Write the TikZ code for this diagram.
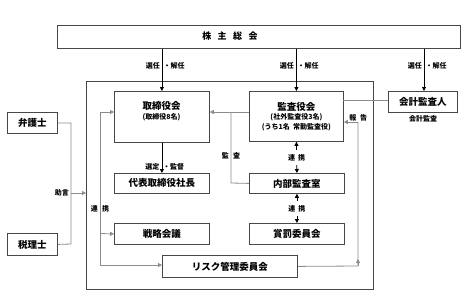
\documentclass[tikz,border=0pt]{standalone}
\usepackage{fontspec}
\setmainfont{Noto Sans CJK JP}
\usetikzlibrary{arrows.meta}
\begin{document}
\begin{tikzpicture}[x=1pt,y=-1pt,
  box/.style={draw=black!72, line width=0.8pt, fill=white, inner sep=0pt, anchor=north west, font=\fontsize{9.5}{11}\selectfont\bfseries},
  small/.style={font=\fontsize{7}{8}\selectfont\bfseries, inner sep=0pt},
  lbl/.style={font=\fontsize{7}{8}\selectfont\bfseries, inner sep=0pt},
  solidln/.style={draw=black, line width=0.8pt},
  grayln/.style={draw=black!45, line width=0.8pt},
  tip/.style={-{Triangle[length=4pt,width=4pt]}},
  dtip/.style={{Triangle[length=4pt,width=4pt]}-{Triangle[length=4pt,width=4pt]}}
]
\useasboundingbox (0,0) rectangle (461,303);
% boxes
\node[box, minimum width=403pt, minimum height=23pt] (soukai) at (57,25) {};
\node[font=\fontsize{9}{10}\selectfont\bfseries, inner sep=0pt] (soukait) at (230,36.5) {株\hspace{6.5pt}主\hspace{6.5pt}総\hspace{6.5pt}会};
\node[box, fill=none, minimum width=287pt, minimum height=208pt] (outer) at (86,81) {};
\node[box, minimum width=95pt, minimum height=51pt] (tori) at (114,91) {};
\node[font=\fontsize{9.5}{11}\selectfont\bfseries, inner sep=0pt] (torit) at (161.5,106) {取締役会};
\node[small] (torin) at (161.5,117.5) {(取締役8名)};
\node[box, minimum width=94pt, minimum height=50pt, align=center] (kansa) at (249,91) {監査役会\\[-1.5pt]{\fontsize{7}{11.5}\selectfont (社外監査役3名)}\\[-1.5pt]{\fontsize{7}{11.5}\selectfont (うち1名\ \ 常勤監査役)}};
\node[box, minimum width=69pt, minimum height=21pt] (kaikei) at (388,91) {会計監査人};
\node[lbl] (kaikeil) at (423,118.5) {会計監査};
\node[box, minimum width=95pt, minimum height=20pt] (daihyo) at (114,173) {代表取締役社長};
\node[box, minimum width=95pt, minimum height=21pt] (senryaku) at (114,223) {戦略会議};
\node[box, minimum width=135pt, minimum height=22pt] (risk) at (162,255) {リスク管理委員会};
\node[box, minimum width=95pt, minimum height=20pt] (naibu) at (249,173) {内部監査室};
\node[box, minimum width=95pt, minimum height=21pt] (shobatsu) at (249,223) {賞罰委員会};
\node[box, minimum width=50pt, minimum height=21pt] (bengo) at (7,112) {弁護士};
\node[box, minimum width=50pt, minimum height=22pt] (zeiri) at (7,233) {税理士};
% election arrows
\draw[solidln, tip] (soukai.south -| tori.north) -- (tori.north);
\draw[solidln, tip] (soukai.south -| kansa.north) -- (kansa.north);
\coordinate (ka) at (424,91);
\draw[solidln, tip] (soukai.south -| ka) -- (ka);
\node[lbl, anchor=east] (s1a) at (160,66) {選任};
\node[lbl, anchor=west] (s1b) at (163.5,66) {・解任};
\node[lbl, anchor=east] (s2a) at (294,66) {選任};
\node[lbl, anchor=west] (s2b) at (297.5,66) {・解任};
\node[lbl, anchor=east] (s3a) at (422,66) {選任};
\node[lbl, anchor=west] (s3b) at (425.5,66) {・解任};
% 選定・監督
\draw[solidln, tip] (tori.south) -- (daihyo.north);
\node[lbl, anchor=east] (sta) at (159.5,167) {選定};
\node[lbl, anchor=west] (stb) at (163,167) {・監督};
% kansa - kaikei
\coordinate (kk1) at (343,100);
\draw[grayln] (kk1) -- (kk1 -| kaikei.west);
% 監査
\coordinate (m1) at (231,112);
\coordinate (m2) at (231,183);
\draw[grayln, tip] (m1 -| kansa.west) -- (m1 -| tori.east);
\draw[grayln] (m1) -- (m2) -- (naibu.west);
\node[lbl, anchor=east] (ma) at (229,156) {監};
\node[lbl, anchor=west] (mb) at (233,156) {査};
% 連携 double arrows
\draw[solidln, dtip] (kansa.south) -- node[lbl, fill=white, inner ysep=4pt, inner xsep=1pt] (r1) {連\hspace{3pt}携} (naibu.north);
\draw[solidln, dtip] (naibu.south) -- node[lbl, fill=white, inner ysep=4pt, inner xsep=1pt] (r2) {連\hspace{3pt}携} (shobatsu.north);
% 報告
\coordinate (h1) at (358,266);
\coordinate (h2) at (358,122);
\coordinate (h3) at (358,259);
\draw[grayln] (risk.east) -- (h1) -- (h2);
\draw[grayln, tip] (h1) -- (h3);
\draw[grayln, tip] (h2) -- (h2 -| kansa.east);
\node[lbl, anchor=east] (ha) at (356.5,118) {報};
\node[lbl, anchor=west] (hb) at (360,118) {告};
% 助言
\coordinate (j1) at (71,123);
\coordinate (j2) at (71,244);
\coordinate (j3) at (71,193);
\draw[grayln] (bengo.east) -- (j1) -- (j2) -- (zeiri.east);
\draw[grayln, tip] (j3) -- (j3 -| outer.west);
\node[lbl, anchor=east] (jl) at (69,193) {助言};
% 連携 left
\coordinate (l1) at (100,112);
\coordinate (l2) at (100,265);
\coordinate (l3) at (100,233.5);
\draw[grayln] (l1) -- (l2);
\draw[grayln, tip] (l1) -- (l1 -| tori.west);
\draw[grayln, tip] (l3) -- (senryaku.west);
\draw[grayln, tip] (l2) -- (l2 -| risk.west);
\node[lbl, anchor=east] (la) at (98,209) {連};
\node[lbl, anchor=west] (lb) at (102,209) {携};
\end{tikzpicture}
\end{document}
